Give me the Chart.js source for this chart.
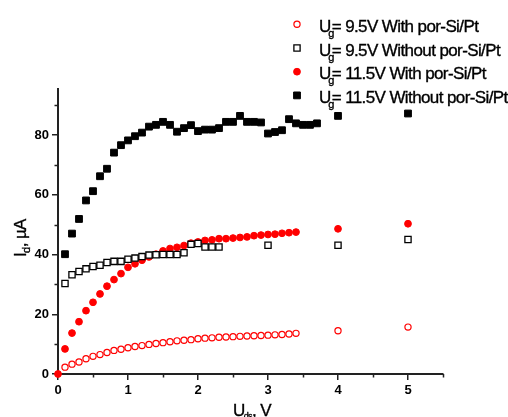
<!DOCTYPE html>
<html>
<head>
<meta charset="utf-8">
<script src="https://cdn.jsdelivr.net/npm/chart.js@4/dist/chart.umd.min.js"></script>
<style>
  html, body { margin: 0; padding: 0; background: #fff; }
  #wrap { width: 508px; height: 417px; position: relative; }
</style>
</head>
<body>
<div id="wrap"><canvas id="c" width="508" height="417"></canvas></div>
<script>
// Drain voltage U_ds (V) for each measured series
const udsLowWith = [0.1,0.2,0.3,0.4,0.5,0.6,0.7,0.8,0.9,1.0,1.1,1.2,1.3,1.4,1.5,1.6,1.7,1.8,1.9,2.0,2.1,2.2,2.3,2.4,2.5,2.6,2.7,2.8,2.9,3.0,3.1,3.2,3.3,3.4,4,5];
const udsLowWithout = [0.1,0.2,0.3,0.4,0.5,0.6,0.7,0.8,0.9,1.0,1.1,1.2,1.3,1.4,1.5,1.6,1.7,1.8,1.9,2.0,2.1,2.2,2.3,3,4,5];
const udsHighWith = [0,0.1,0.2,0.3,0.4,0.5,0.6,0.7,0.8,0.9,1.0,1.1,1.2,1.3,1.4,1.5,1.6,1.7,1.8,1.9,2.0,2.1,2.2,2.3,2.4,2.5,2.6,2.7,2.8,2.9,3.0,3.1,3.2,3.3,3.4,4,5];
const udsHighWithout = [0.1,0.2,0.3,0.4,0.5,0.6,0.7,0.8,0.9,1.0,1.1,1.2,1.3,1.4,1.5,1.6,1.7,1.8,1.9,2.0,2.1,2.2,2.3,2.4,2.5,2.6,2.7,2.8,2.9,3.0,3.1,3.2,3.3,3.4,3.5,3.6,3.7,4,5];

// Drain current I_d (µA)
const idLowWith = [2.3,3.3,4.0,5.1,5.9,6.5,7.2,7.9,8.3,8.8,9.2,9.5,9.9,10.2,10.5,10.8,11.1,11.3,11.5,11.8,12.0,12.1,12.3,12.4,12.5,12.6,12.7,12.8,12.9,13.0,13.1,13.2,13.4,13.6,14.5,15.7];
const idLowWithout = [30.3,33.2,34.3,35.2,36.0,36.4,37.3,37.7,37.7,38.4,38.8,39.3,39.8,39.9,40.0,40.0,40.0,40.6,43.4,43.7,42.5,42.5,42.5,43.1,43.1,45.0];
const idHighWith = [0,8.4,13.7,17.5,21.2,24.0,26.8,29.4,31.6,33.6,35.7,36.9,38.1,39.2,40.1,41.2,42.0,42.4,43.0,43.8,44.2,44.7,44.9,45.3,45.3,45.5,45.7,45.9,46.3,46.5,46.7,46.8,47.1,47.3,47.5,48.6,50.3];
const idHighWithout = [40.1,47.0,51.9,58.1,61.2,66.2,68.7,74.1,76.6,78.2,79.6,80.8,82.8,83.4,84.4,83.4,81.1,82.3,83.3,81.3,81.8,81.8,82.3,84.4,84.4,86.4,84.4,84.4,84.2,80.5,81.0,81.6,85.3,83.9,83.4,83.4,83.9,86.4,87.2];

// Series legend text after the U_g symbol
const seriesLabels = ['= 9.5V With por-Si/Pt', '= 9.5V Without por-Si/Pt', '= 11.5V With por-Si/Pt', '= 11.5V Without por-Si/Pt'];

// Axis ticks
const xMajorTicks = [0,1,2,3,4,5];
const xMinorTicks = [0.5,1.5,2.5,3.5,4.5,5.5];
const yMajorTicks = [0,20,40,60,80];
const yMinorTicks = [10,30,50,70,90];

const toPoints = (xs, ys) => xs.map((x, i) => ({ x: x, y: ys[i] }));

const FONT = '"Liberation Sans", Arial, sans-serif';
const AXIS_COLOR = '#222';

const styles = [
  { pointStyle: 'circle', pointRadius: 3.1, pointBorderWidth: 1.2, borderColor: '#ff0000', backgroundColor: '#ffffff' },
  { pointStyle: 'rect', pointRadius: 4.4, pointBorderWidth: 1.3, borderColor: '#000000', backgroundColor: '#ffffff' },
  { pointStyle: 'circle', pointRadius: 3.4, pointBorderWidth: 1, borderColor: '#ff0000', backgroundColor: '#ff0000' },
  { pointStyle: 'rect', pointRadius: 4.8, pointBorderWidth: 1, borderColor: '#000000', backgroundColor: '#000000' }
];

const datasets = [
  toPoints(udsLowWith, idLowWith),
  toPoints(udsLowWithout, idLowWithout),
  toPoints(udsHighWith, idHighWith),
  toPoints(udsHighWithout, idHighWithout)
].map((data, i) => Object.assign({
  label: 'Ug' + seriesLabels[i],
  data: data,
  showLine: false,
  clip: false,
  pointHoverRadius: styles[i].pointRadius
}, styles[i]));

// Text drawn with a hairline stroke so it reads a little heavier
function heavyText(ctx, s, x, y) {
  ctx.fillText(s, x, y);
  ctx.strokeText(s, x, y);
}

// Minor ticks, axis titles and the legend with subscripts
const decorations = {
  id: 'decorations',
  afterDraw(chart) {
    const ctx = chart.ctx;
    const xs = chart.scales.x, ys = chart.scales.y;
    const area = chart.chartArea;
    ctx.save();
    ctx.strokeStyle = AXIS_COLOR;
    ctx.lineWidth = 1.5;
    ctx.beginPath();
    xMinorTicks.forEach(v => {
      const p = Math.round(xs.getPixelForValue(v)) + 0.5;
      ctx.moveTo(p, area.bottom);
      ctx.lineTo(p, area.bottom + 3.5);
    });
    yMinorTicks.forEach(v => {
      const p = Math.round(ys.getPixelForValue(v)) + 0.5;
      ctx.moveTo(area.left, p);
      ctx.lineTo(area.left - 3.5, p);
    });
    ctx.stroke();

    ctx.fillStyle = '#000';
    ctx.strokeStyle = '#000';
    ctx.lineWidth = 0.35;
    ctx.textBaseline = 'alphabetic';
    if ('letterSpacing' in ctx) ctx.letterSpacing = '-0.6px';

    // x axis title: U_ds, V
    let x = 233, y = 416;
    ctx.font = '17px ' + FONT;
    heavyText(ctx, 'U', x, y);
    x += ctx.measureText('U').width;
    ctx.font = '9px ' + FONT;
    heavyText(ctx, 'ds', x - 1, y + 3);
    x += ctx.measureText('ds').width;
    ctx.font = '17px ' + FONT;
    heavyText(ctx, ', V', x - 1, y);

    // y axis title: I_d, µA (rotated)
    ctx.save();
    ctx.translate(26, 257);
    ctx.rotate(-Math.PI / 2);
    x = 0;
    ctx.font = '17px ' + FONT;
    heavyText(ctx, 'I', x, 0);
    x += ctx.measureText('I').width;
    ctx.font = '11px ' + FONT;
    heavyText(ctx, 'd', x, 4);
    x += ctx.measureText('d').width;
    ctx.font = '17px ' + FONT;
    heavyText(ctx, ', µA', x, 0);
    ctx.restore();

    // legend
    const markerX = 297, textX = 319, rowTop = 24.3, rowGap = 23.7;
    chart.data.datasets.forEach((ds, i) => {
      const cy = rowTop + i * rowGap;
      ctx.save();
      ctx.fillStyle = ds.backgroundColor;
      ctx.strokeStyle = ds.borderColor;
      ctx.lineWidth = ds.pointBorderWidth;
      Chart.helpers.drawPoint(ctx, {
        pointStyle: ds.pointStyle, radius: ds.pointRadius, rotation: 0, borderWidth: ds.pointBorderWidth
      }, markerX, cy);
      ctx.restore();

      const base = cy + 7.5;
      let tx = textX;
      ctx.font = '17px ' + FONT;
      heavyText(ctx, 'U', tx, base);
      tx += ctx.measureText('U').width;
      ctx.font = '11px ' + FONT;
      heavyText(ctx, 'g', tx - 2.5, base + 5);
      ctx.font = '17px ' + FONT;
      heavyText(ctx, seriesLabels[i], tx + 1, base);
    });
    ctx.restore();
  }
};

new Chart(document.getElementById('c'), {
  type: 'scatter',
  data: { datasets: datasets },
  options: {
    responsive: false,
    animation: false,
    devicePixelRatio: 1,
    layout: { padding: { left: 0, top: 89, right: 65, bottom: 0 } },
    plugins: {
      legend: { display: false },
      tooltip: { enabled: false }
    },
    scales: {
      x: {
        type: 'linear',
        min: 0,
        max: 5.5,
        afterFit(scale) { scale.height = 43; },
        afterBuildTicks(scale) { scale.ticks = xMajorTicks.map(v => ({ value: v })); },
        border: { display: true, color: AXIS_COLOR, width: 2 },
        grid: { drawOnChartArea: false, drawTicks: true, tickLength: 6, color: AXIS_COLOR, lineWidth: 1.5 },
        ticks: {
          padding: 3,
          color: '#000',
          font: { family: FONT, size: 13, weight: 'bold' },
          maxRotation: 0,
          autoSkip: false,
          callback: v => String(v)
        }
      },
      y: {
        type: 'linear',
        min: 0,
        max: 95.4,
        afterFit(scale) { scale.width = 58; },
        afterBuildTicks(scale) { scale.ticks = yMajorTicks.map(v => ({ value: v })); },
        border: { display: true, color: AXIS_COLOR, width: 2 },
        grid: { drawOnChartArea: false, drawTicks: true, tickLength: 6, color: AXIS_COLOR, lineWidth: 1.5 },
        ticks: {
          padding: 3,
          color: '#000',
          font: { family: FONT, size: 13, weight: 'bold' },
          autoSkip: false,
          callback: v => String(v)
        }
      }
    }
  },
  plugins: [decorations]
});
</script>
</body>
</html>
